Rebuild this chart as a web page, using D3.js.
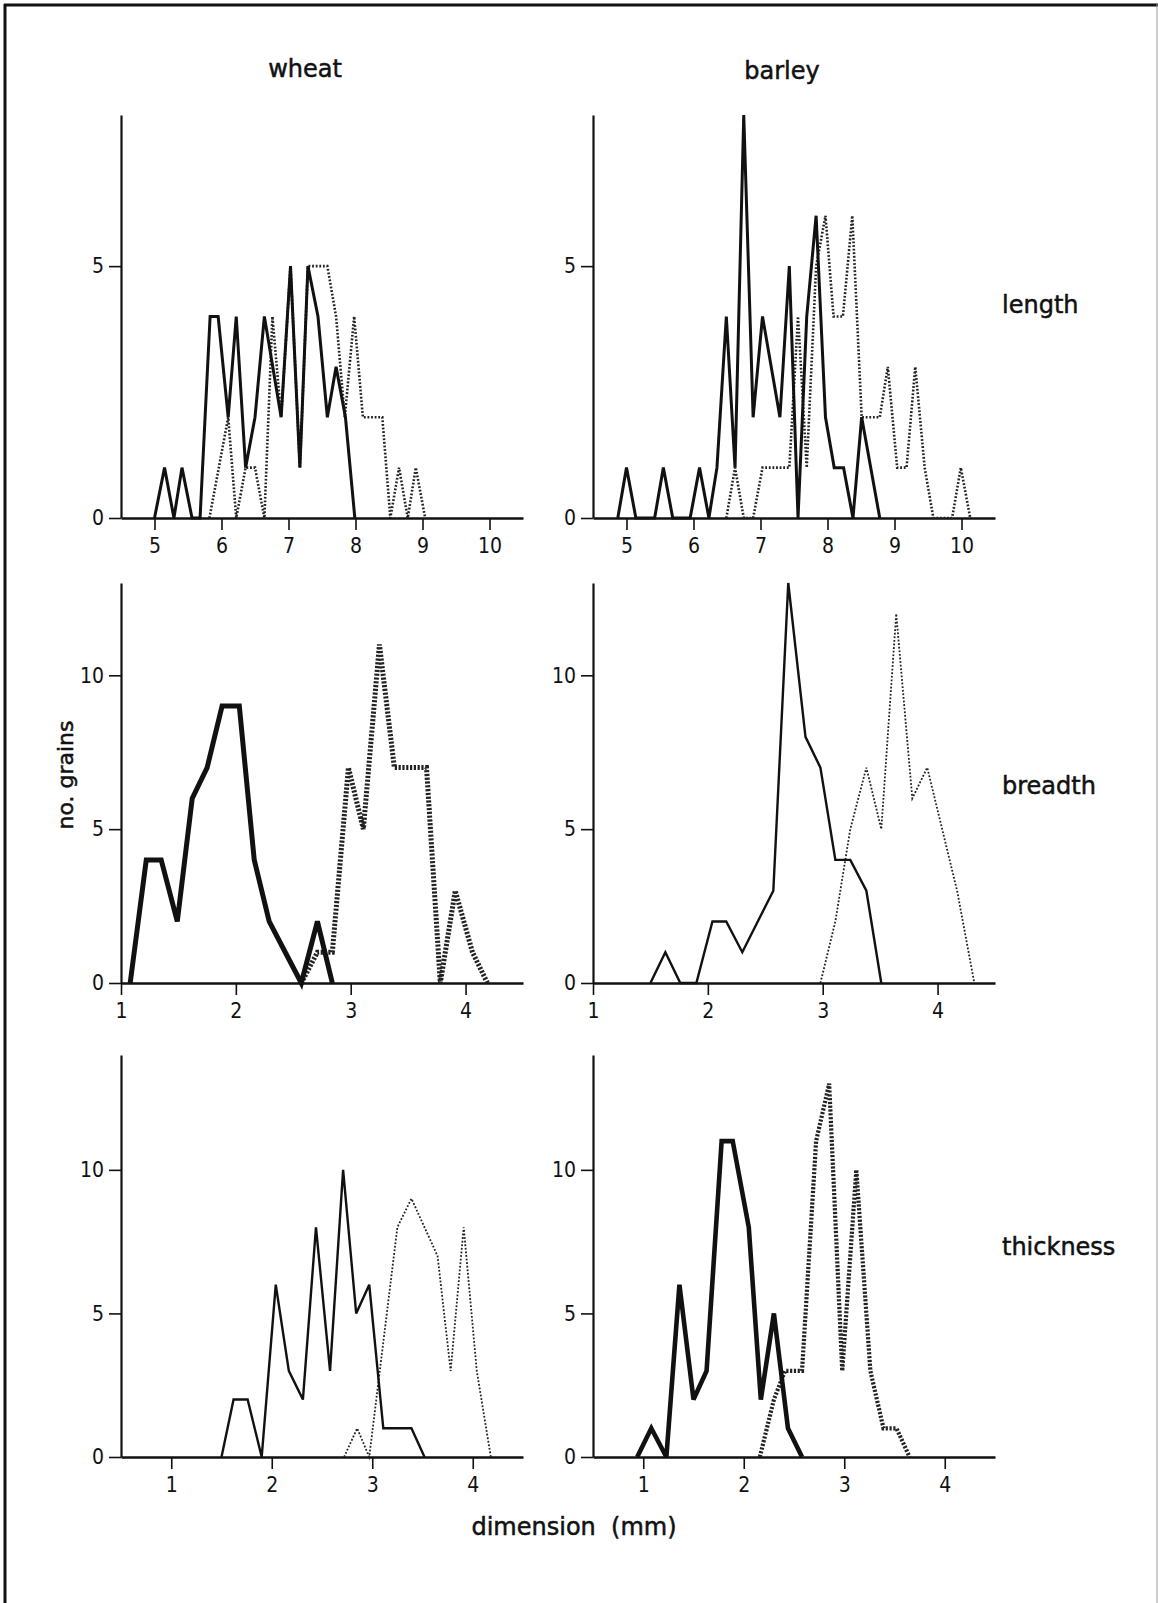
<!DOCTYPE html>
<html>
<head>
<meta charset="utf-8">
<script src="https://cdn.jsdelivr.net/npm/d3@7"></script>
<style>
  body { margin: 0; background: #fff; }
  .label { font-family: "DejaVu Sans", Verdana, sans-serif; font-size: 24px; fill: #111; stroke: #111; stroke-width: 0.5px; }
  .tick text { font-family: "DejaVu Sans Condensed", "DejaVu Sans", sans-serif; font-size: 21px; fill: #111; }
</style>
</head>
<body>
<div id="chart"></div>
<script>
/********************************************************/
// grain counts per size class: [dimension (mm), no. grains]
const wheatLengthSolid = [[5.0,0],[5.15,1],[5.29,0],[5.41,1],[5.56,0],[5.68,0],[5.83,4],[5.95,4],[6.10,2],[6.22,4],[6.36,1],[6.50,2],[6.64,4],[6.89,2],[7.03,5],[7.17,1],[7.29,5],[7.44,4],[7.58,2],[7.71,3],[7.85,2],[7.99,0]];
const wheatLengthDotted = [[5.82,0],[6.10,2],[6.22,0],[6.36,1],[6.50,1],[6.64,0],[6.76,4],[6.89,2],[7.03,5],[7.17,1],[7.29,5],[7.58,5],[7.71,4],[7.84,2],[7.98,4],[8.11,2],[8.40,2],[8.52,0],[8.65,1],[8.78,0],[8.90,1],[9.04,0]];
const barleyLengthSolid = [[4.87,0],[5.0,1],[5.14,0],[5.42,0],[5.55,1],[5.69,0],[5.95,0],[6.09,1],[6.23,0],[6.35,1],[6.49,4],[6.62,1],[6.75,8],[6.89,2],[7.03,4],[7.29,2],[7.43,5],[7.56,0],[7.69,4],[7.83,6],[7.97,2],[8.10,1],[8.24,1],[8.38,0],[8.51,2],[8.78,0]];
const barleyLengthDotted = [[6.49,0],[6.62,1],[6.75,0],[6.89,0],[7.03,1],[7.43,1],[7.56,4],[7.69,1],[7.83,5],[7.97,6],[8.09,4],[8.23,4],[8.37,6],[8.51,2],[8.78,2],[8.90,3],[9.04,1],[9.18,1],[9.31,3],[9.45,1],[9.58,0],[9.86,0],[9.99,1],[10.13,0]];
const wheatBreadthSolid = [[1.08,0],[1.22,4],[1.35,4],[1.49,2],[1.62,6],[1.75,7],[1.88,9],[2.03,9],[2.16,4],[2.29,2],[2.43,1],[2.57,0],[2.71,2],[2.84,0]];
const wheatBreadthDotted = [[2.57,0],[2.71,1],[2.84,1],[2.98,7],[3.11,5],[3.25,11],[3.38,7],[3.52,7],[3.66,7],[3.78,0],[3.91,3],[4.06,1],[4.19,0]];
const barleyBreadthSolid = [[1.50,0],[1.63,1],[1.76,0],[1.90,0],[2.04,2],[2.16,2],[2.30,1],[2.57,3],[2.70,13],[2.85,8],[2.98,7],[3.11,4],[3.24,4],[3.38,3],[3.51,0]];
const barleyBreadthDotted = [[2.98,0],[3.11,2],[3.24,5],[3.38,7],[3.51,5],[3.64,12],[3.78,6],[3.91,7],[4.04,5],[4.17,3],[4.32,0]];
const wheatThicknessSolid = [[1.50,0],[1.62,2],[1.76,2],[1.90,0],[2.04,6],[2.17,3],[2.31,2],[2.44,8],[2.58,3],[2.71,10],[2.84,5],[2.97,6],[3.11,1],[3.25,1],[3.39,1],[3.52,0]];
const wheatThicknessDotted = [[2.72,0],[2.85,1],[2.97,0],[3.11,4],[3.25,8],[3.39,9],[3.52,8],[3.65,7],[3.78,3],[3.91,8],[4.04,3],[4.18,0]];
const barleyThicknessSolid = [[0.94,0],[1.08,1],[1.23,0],[1.36,6],[1.50,2],[1.63,3],[1.78,11],[1.89,11],[2.05,8],[2.17,2],[2.30,5],[2.44,1],[2.58,0]];
const barleyThicknessDotted = [[2.16,0],[2.30,2],[2.41,3],[2.58,3],[2.72,11],[2.85,13],[2.98,3],[3.12,10],[3.26,3],[3.39,1],[3.52,1],[3.65,0]];
/********************************************************/
const crops = ["wheat", "barley"];
const measures = ["length", "breadth", "thickness"];
const xDomains = [[4.5, 10.5], [1, 4.5], [0.5, 4.5]];
const yMaxes = [8, 13, 14];
const xTickValues = [[5, 6, 7, 8, 9, 10], [1, 2, 3, 4], [1, 2, 3, 4]];
const yTickValues = [[0, 5], [0, 5, 10], [0, 5, 10]];
/********************************************************/
const svgWidth = 1158;
const svgHeight = 1603;
const colLeft = [121, 593];
const colWidth = 402;
const rowTop = [115, 583, 1055];
const rowBottom = [518, 983, 1457];

// line weights per panel [row][col] : solid, dotted
const weights = [
  [{ s: 3, d: 2.6 }, { s: 3, d: 2.6 }],
  [{ s: 5, d: 5 }, { s: 2.4, d: 1.8 }],
  [{ s: 2.4, d: 1.8 }, { s: 4.6, d: 4.2 }],
];
const series = [
  [[wheatLengthSolid, wheatLengthDotted], [barleyLengthSolid, barleyLengthDotted]],
  [[wheatBreadthSolid, wheatBreadthDotted], [barleyBreadthSolid, barleyBreadthDotted]],
  [[wheatThicknessSolid, wheatThicknessDotted], [barleyThicknessSolid, barleyThicknessDotted]],
];
/********************************************************/
const svg = d3.select("#chart").append("svg").attr("width", svgWidth).attr("height", svgHeight);
svg.append("rect").attr("width", svgWidth).attr("height", svgHeight).attr("fill", "#fff");

// frame
svg.append("line").attr("x1", 4).attr("x2", svgWidth).attr("y1", 5).attr("y2", 5)
  .attr("stroke", "#111").attr("stroke-width", 3);
svg.append("line").attr("x1", 5).attr("x2", 5).attr("y1", 4).attr("y2", svgHeight)
  .attr("stroke", "#111").attr("stroke-width", 3);
svg.append("line").attr("x1", 1157).attr("x2", 1157).attr("y1", 4).attr("y2", svgHeight)
  .attr("stroke", "#999").attr("stroke-width", 1);

measures.forEach((m, r) => {
  crops.forEach((c, k) => {
    const x = d3.scaleLinear().domain(xDomains[r]).range([colLeft[k], colLeft[k] + colWidth]);
    const y = d3.scaleLinear().domain([0, yMaxes[r]]).range([rowBottom[r], rowTop[r]]);
    const g = svg.append("g");

    const xAxis = d3.axisBottom(x).tickValues(xTickValues[r]).tickSize(12).tickSizeOuter(0).tickPadding(8).tickFormat(d3.format("d"));
    const yAxis = d3.axisLeft(y).tickValues(yTickValues[r]).tickSize(12).tickSizeOuter(0).tickPadding(5).tickFormat(d3.format("d"));

    const gx = g.append("g").attr("transform", `translate(0, ${rowBottom[r]})`).call(xAxis);
    gx.select(".domain").attr("stroke-width", 2.6).attr("stroke", "#111");
    gx.selectAll(".tick line").attr("stroke-width", 1.6).attr("stroke", "#111");

    const gy = g.append("g").attr("transform", `translate(${colLeft[k]}, 0)`).call(yAxis);
    gy.select(".domain").attr("stroke-width", 2.2).attr("stroke", "#111");
    gy.selectAll(".tick line").attr("stroke-width", 1.6).attr("stroke", "#111");

    const line = d3.line().x((d) => x(d[0])).y((d) => y(d[1]));
    const [solid, dotted] = series[r][k];
    const w = weights[r][k];

    g.append("path").datum(dotted).attr("d", line)
      .attr("fill", "none").attr("stroke", "#222")
      .attr("stroke-width", w.d)
      .attr("stroke-dasharray", w.d > 3 ? "2.2,1.6" : "1.8,1.8")
      .attr("stroke-linejoin", "miter");

    g.append("path").datum(solid).attr("d", line)
      .attr("fill", "none").attr("stroke", "#111")
      .attr("stroke-width", w.s)
      .attr("stroke-linejoin", "miter").attr("stroke-miterlimit", 3);
  });
});

// column titles
svg.append("text").attr("class", "label").attr("x", 305).attr("y", 77).attr("text-anchor", "middle").text("wheat");
svg.append("text").attr("class", "label").attr("x", 782).attr("y", 79).attr("text-anchor", "middle").text("barley");

// row titles
const rowLabelY = [313, 794, 1255];
measures.forEach((m, r) => {
  svg.append("text").attr("class", "label").attr("x", 1002).attr("y", rowLabelY[r]).text(m);
});

// axis titles
svg.append("text").attr("class", "label").attr("x", 574).attr("y", 1535).attr("text-anchor", "middle")
  .style("white-space", "pre").text("dimension  (mm)");
svg.append("text").attr("class", "label").style("font-size", "22px")
  .attr("transform", "translate(73, 775) rotate(-90)").attr("text-anchor", "middle").text("no. grains");
</script>
</body>
</html>
